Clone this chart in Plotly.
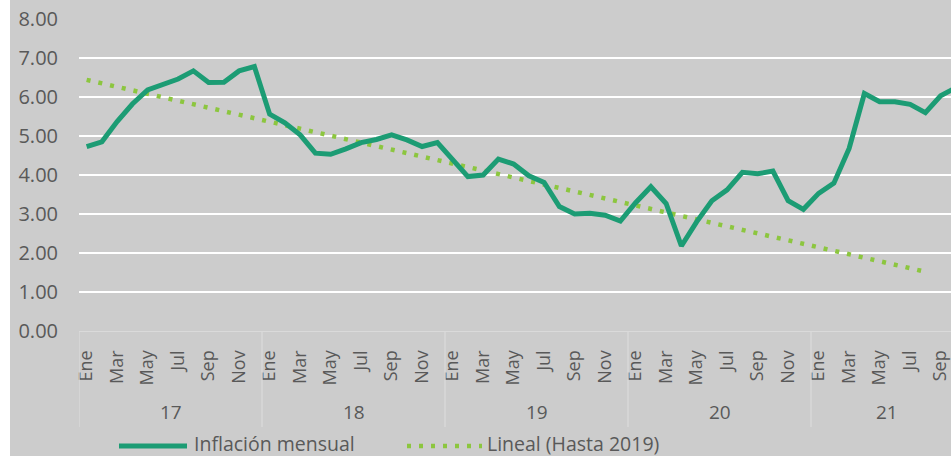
import plotly.graph_objects as go

# ---- data ----
month_names = ["Ene", "Feb", "Mar", "Abr", "May", "Jun", "Jul", "Ago", "Sep", "Oct", "Nov", "Dic"]
years = ["17", "18", "19", "20", "21"]
months_per_year = [12, 12, 12, 12, 10]

inflacion = [
    4.73, 4.85, 5.37, 5.82, 6.18, 6.33, 6.46, 6.67, 6.37, 6.38, 6.67, 6.78,   # 2017
    5.56, 5.34, 5.03, 4.56, 4.53, 4.67, 4.83, 4.91, 5.03, 4.90, 4.73, 4.83,   # 2018
    4.38, 3.96, 4.00, 4.41, 4.28, 3.98, 3.81, 3.19, 3.00, 3.02, 2.97, 2.82,   # 2019
    3.29, 3.70, 3.27, 2.18, 2.80, 3.34, 3.62, 4.07, 4.03, 4.10, 3.34, 3.12,   # 2020
    3.53, 3.79, 4.68, 6.09, 5.88, 5.88, 5.81, 5.60, 6.03, 6.24,               # 2021
]

# linear trend (fitted up to 2019), endpoints: Ene 17 and Ago 21
trend_idx = [0, 55]
trend_val = [6.44, 1.52]

y_ticks = [0, 1, 2, 3, 4, 5, 6, 7, 8]

# ---- derived category layout ----
x_idx = list(range(len(inflacion)))
labels = []
for n in months_per_year:
    labels += month_names[:n]
tickvals = [i for i in x_idx if month_names.index(labels[i]) % 2 == 0]
ticktext = [labels[i] for i in tickvals]

year_starts = []
s = 0
for n in months_per_year:
    year_starts.append(s)
    s += n
year_centers = [st + n / 2 - 0.5 for st, n in zip(year_starts, months_per_year)]

TXT = "#595959"
FONT = "Open Sans"
MAIN = "#1c9c74"
TREND = "#8cc63f"
SEP = "#dadada"

W, H = 951, 456
ML, MT, MB = 79, 19, 125
PW = W - ML
PH = H - MT - MB
MONTH_PX = 15.25
x_end = PW / MONTH_PX - 0.5


def px_x(p):
    return (p - ML) / PW


def px_y(p):
    return (H - MB - p) / PH


fig = go.Figure()
fig.add_trace(go.Scatter(
    x=trend_idx, y=trend_val, mode="lines",
    line=dict(color=TREND, width=4.5, dash="4px,8px"),
    name="Lineal (Hasta 2019)", showlegend=False, hoverinfo="skip",
))
fig.add_trace(go.Scatter(
    x=x_idx, y=inflacion, mode="lines",
    line=dict(color=MAIN, width=5),
    name="Inflación mensual", showlegend=False,
))

shapes = []
# white strip at far left
shapes.append(dict(type="rect", xref="paper", yref="paper",
                   x0=px_x(0), x1=px_x(10), y0=px_y(H), y1=px_y(0),
                   fillcolor="white", line=dict(width=0), layer="above"))
# year separators
for st in year_starts:
    shapes.append(dict(type="line", xref="x", yref="paper",
                       x0=st - 0.5, x1=st - 0.5, y0=0, y1=px_y(427),
                       line=dict(color=SEP, width=1.3)))
# legend keys
ly = px_y(446)
shapes.append(dict(type="line", xref="paper", yref="paper",
                   x0=px_x(119), x1=px_x(187), y0=ly, y1=ly,
                   line=dict(color=MAIN, width=5)))
shapes.append(dict(type="line", xref="paper", yref="paper",
                   x0=px_x(407), x1=px_x(482), y0=ly, y1=ly,
                   line=dict(color=TREND, width=4.5, dash="4px,8px")))

annotations = []
for yr, c in zip(years, year_centers):
    annotations.append(dict(x=c, y=px_y(412), xref="x", yref="paper", text=yr,
                            showarrow=False, font=dict(family=FONT, size=19, color=TXT),
                            xanchor="center", yanchor="middle"))
lty = px_y(443)
annotations.append(dict(x=px_x(192), y=lty, xref="paper", yref="paper",
                        text="Inflación mensual", showarrow=False,
                        font=dict(family=FONT, size=19.5, color=TXT),
                        xanchor="left", yanchor="middle"))
annotations.append(dict(x=px_x(485), y=lty, xref="paper", yref="paper",
                        text="Lineal (Hasta 2019)", showarrow=False,
                        font=dict(family=FONT, size=19.5, color=TXT),
                        xanchor="left", yanchor="middle"))

fig.update_layout(
    width=W, height=H,
    margin=dict(l=ML, r=0, t=MT, b=MB, pad=0),
    paper_bgcolor="#cccccc", plot_bgcolor="#cccccc",
    font=dict(family=FONT, color=TXT),
    showlegend=False,
    shapes=shapes, annotations=annotations,
    xaxis=dict(range=[-0.5, x_end], tickmode="array", tickvals=tickvals, ticktext=ticktext,
               tickangle=-90, tickfont=dict(family=FONT, size=18, color=TXT),
               showgrid=False, zeroline=False, showline=True, linecolor=SEP, linewidth=1.3,
               ticks="", ticklabelstandoff=11, ticklabeloverflow="allow"),
    yaxis=dict(range=[0, 8], tickmode="array", tickvals=y_ticks,
               ticktext=[f"{v:.2f}" for v in y_ticks],
               tickfont=dict(family=FONT, size=20, color=TXT),
               showgrid=True, gridcolor="white", gridwidth=1.5,
               zeroline=False, showline=False, ticks="", ticklabelstandoff=20),
)

fig.write_html("out.html", config={"displayModeBar": False})

# remove the default page margin so the figure fills the window exactly
with open("out.html", "r", encoding="utf-8") as f:
    html = f.read()
html = html.replace("<head>", "<head><style>html,body{margin:0;padding:0;overflow:hidden;}</style>", 1)
with open("out.html", "w", encoding="utf-8") as f:
    f.write(html)
